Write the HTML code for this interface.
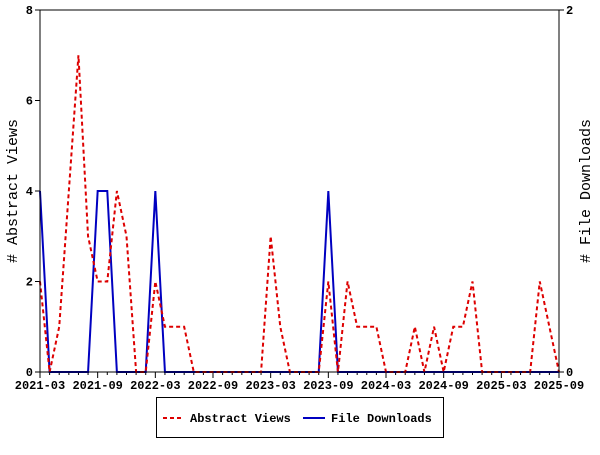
<!DOCTYPE html>
<html><head><style>
html,body{margin:0;padding:0;background:#fff;}
svg text{font-family:"Liberation Mono","DejaVu Sans Mono",monospace;font-weight:bold;font-size:12px;fill:#000;}
</style></head><body>
<svg id="s" width="600" height="450" xmlns="http://www.w3.org/2000/svg">
<rect x="0" y="0" width="600" height="450" fill="#fff"/>
<g id="g"></g>
<line x1="40" y1="10" x2="559" y2="10" stroke="#000"/>
<line x1="40" y1="10" x2="40" y2="372" stroke="#000"/>
<line x1="559" y1="10" x2="559" y2="372" stroke="#000"/>
<line x1="40" y1="372" x2="559" y2="372" stroke="#000"/>
<text x="17" y="191" text-anchor="middle" transform="rotate(-90 17 191)" style="font-size:15px;font-weight:normal">#  Abstract Views</text>
<text x="590" y="191" text-anchor="middle" transform="rotate(-90 590 191)" style="font-size:15px;font-weight:normal">#  File Downloads</text>
<rect x="156.5" y="397.5" width="287" height="40" fill="none" stroke="#000"/>
<line x1="163" y1="418" x2="183" y2="418" stroke="#d00" stroke-width="2" stroke-dasharray="4,3"/>
<text x="190" y="422">Abstract Views</text>
<line x1="303" y1="418" x2="325" y2="418" stroke="#0000c0" stroke-width="2"/>
<text x="331" y="422">File Downloads</text>
</svg>
<script>
var g=document.getElementById('g'),h='';
function X(i){return 40+i*519/54;}
function Y(v){return 372-v*45.25;}
var labs=['2021-03','2021-09','2022-03','2022-09','2023-03','2023-09','2024-03','2024-09','2025-03','2025-09'];
for(var i=0;i<=54;i++){var x=X(i);h+='<line x1="'+x+'" y1="372" x2="'+x+'" y2="'+(i%6==0?378:375)+'" stroke="#000"/>';
if(i%6==0)h+='<text x="'+x+'" y="389" text-anchor="middle">'+labs[i/6]+'</text>';}
for(var v=0;v<=8;v+=2){var y=Y(v);h+='<line x1="35" y1="'+y+'" x2="40" y2="'+y+'" stroke="#000"/><text x="33" y="'+(y+4)+'" text-anchor="end">'+v+'</text>';}
h+='<line x1="559" y1="10" x2="564" y2="10" stroke="#000"/><text x="566" y="14">2</text>';
h+='<line x1="559" y1="372" x2="564" y2="372" stroke="#000"/><text x="566" y="376">0</text>';
var r=[2,0,1,4,7,3,2,2,4,3,0,0,2,1,1,1,0,0,0,0,0,0,0,0,3,1,0,0,0,0,2,0,2,1,1,1,0,0,0,1,0,1,0,1,1,2,0,0,0,0,0,0,2,1,0];
var b=[];for(i=0;i<=54;i++)b.push(0);b[0]=4;b[6]=4;b[7]=4;b[12]=4;b[30]=4;
var pr='',pb='';for(i=0;i<=54;i++){pr+=X(i)+','+Y(r[i])+' ';pb+=X(i)+','+Y(b[i])+' ';}
h+='<polyline points="'+pb+'" fill="none" stroke="#0000c0" stroke-width="2"/>';
h+='<polyline points="'+pr+'" fill="none" stroke="#d00" stroke-width="2" stroke-dasharray="4,3"/>';
g.innerHTML=h;
</script>
</body></html>
